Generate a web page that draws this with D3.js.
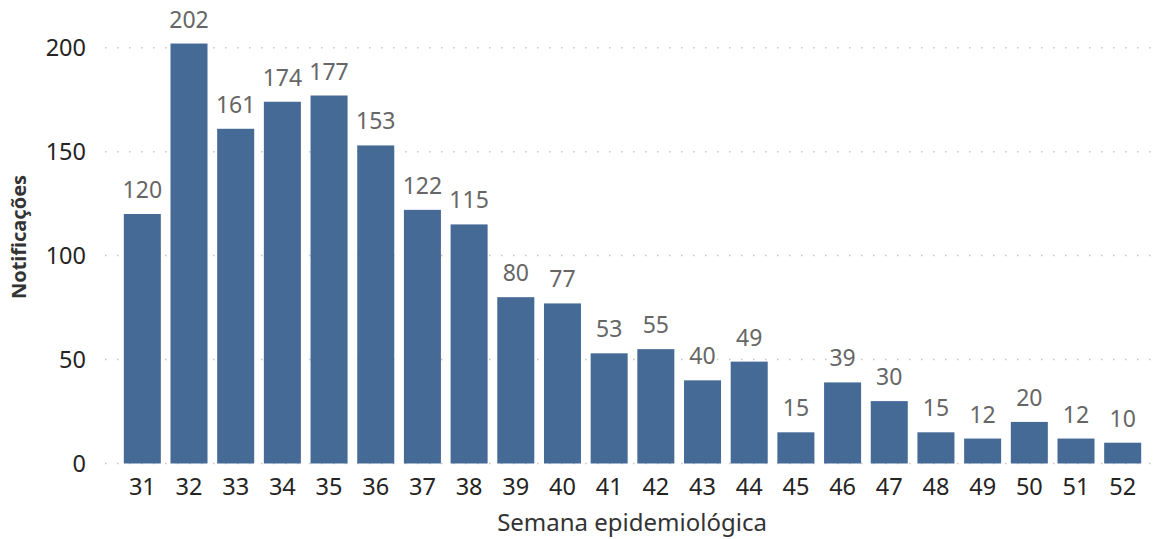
<!DOCTYPE html>
<html>
<head>
<meta charset="utf-8">
<script src="https://cdn.jsdelivr.net/npm/d3@7"></script>
<style>
	body { margin: 0; background: #fff; }
	svg text { font-family: "Noto Sans", "Open Sans", sans-serif; }
</style>
</head>
<body>
<svg id="chart" width="1167" height="539"></svg>
<script>
(function(d3) {
	'use strict';

	var weeks = ['31', '32', '33', '34', '35', '36', '37', '38', '39', '40', '41',
		'42', '43', '44', '45', '46', '47', '48', '49', '50', '51', '52'];
	var notifications = [120, 202, 161, 174, 177, 153, 122, 115, 80, 77, 53,
		55, 40, 49, 15, 39, 30, 15, 12, 20, 12, 10];
	var yTicks = [0, 50, 100, 150, 200];

	var svg = d3.select('#chart');
	var left = 119, right = 1146, top = 47.7, bottom = 463.5;

	var x = d3.scaleBand().domain(weeks).range([left, right]).paddingInner(0.207).paddingOuter(0.103);
	var y = d3.scaleLinear().domain([0, 200]).range([bottom, top]);

	/** grid */
	var grid = svg.append('g').attr('class', 'grid');
	grid.selectAll('line').data(yTicks).enter().append('line')
		.attr('x1', 105).attr('x2', 1156)
		.attr('y1', function(d) { return y(d); }).attr('y2', function(d) { return y(d); })
		.attr('stroke', '#c8c8c8').attr('stroke-width', 1.5)
		.attr('stroke-dasharray', '1.5,10.5');

	/** y axis */
	var yAxis = svg.append('g').attr('transform', 'translate(86,0)')
		.call(d3.axisLeft(y).tickValues(yTicks).tickSize(0).tickPadding(0));
	yAxis.select('.domain').remove();
	yAxis.selectAll('text').attr('font-size', 23.5).attr('fill', '#252423').attr('dy', '0.35em');

	/** x axis */
	var xAxis = svg.append('g').attr('transform', 'translate(0,' + bottom + ')')
		.call(d3.axisBottom(x).tickSize(0).tickPadding(15));
	xAxis.select('.domain').remove();
	xAxis.selectAll('text').attr('font-size', 23.5).attr('fill', '#252423').attr('dy', '0.71em');

	/** bars */
	svg.append('g').selectAll('rect').data(notifications).enter().append('rect')
		.attr('x', function(d, i) { return x(weeks[i]); })
		.attr('width', x.bandwidth())
		.attr('y', function(d) { return y(d); })
		.attr('height', function(d) { return bottom - y(d); })
		.attr('fill', '#466A96');

	/** value labels */
	svg.append('g').selectAll('text').data(notifications).enter().append('text')
		.attr('x', function(d, i) { return x(weeks[i]) + x.bandwidth() / 2; })
		.attr('y', function(d) { return y(d) - 16; })
		.attr('text-anchor', 'middle')
		.attr('font-size', 23).attr('fill', '#666666')
		.text(function(d) { return d; });

	/** titles */
	svg.append('text').attr('x', 632).attr('y', 531).attr('text-anchor', 'middle')
		.attr('font-size', 24).attr('fill', '#333333').text('Semana epidemiológica');
	svg.append('text').attr('transform', 'translate(26,237) rotate(-90)').attr('text-anchor', 'middle')
		.attr('font-size', 20).attr('font-weight', 'bold').attr('fill', '#333333').text('Notificações');
})(d3);
</script>
</body>
</html>
